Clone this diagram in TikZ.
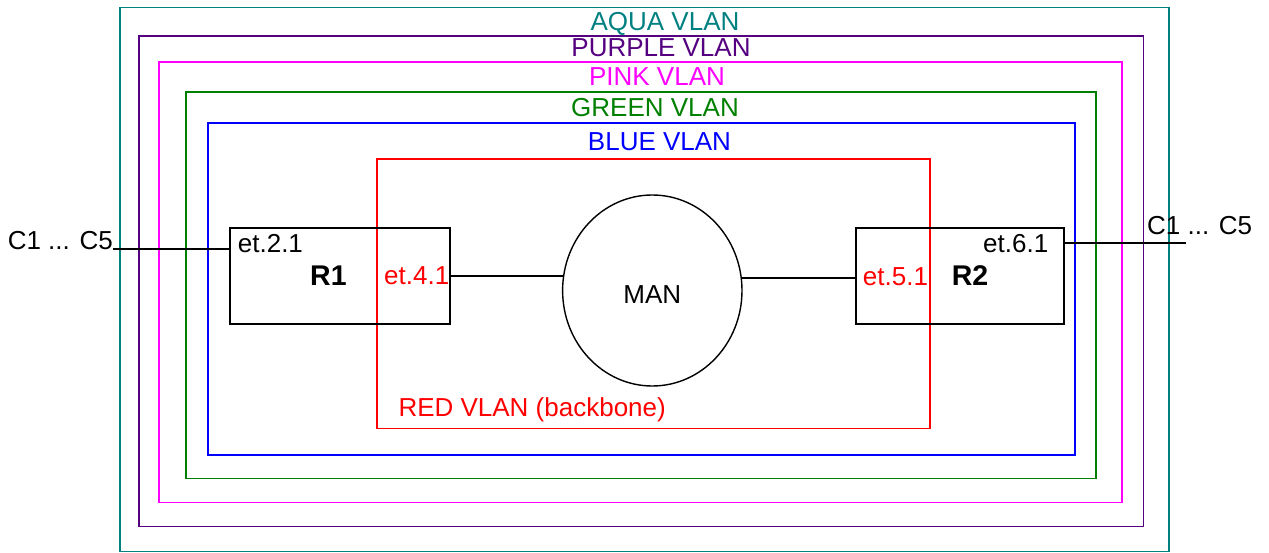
\documentclass[tikz,border=0pt]{standalone}
\usepackage{fontspec}
\setmainfont{Liberation Sans}
\usetikzlibrary{shapes.geometric}
\definecolor{aquac}{RGB}{0,128,128}
\definecolor{purplec}{RGB}{85,0,128}
\definecolor{pinkc}{RGB}{255,0,255}
\definecolor{greenc}{RGB}{0,128,0}
\definecolor{bluec}{RGB}{0,0,255}
\definecolor{redc}{RGB}{255,0,0}
\tikzset{
  vlan/.style={line width=1.6pt},
  txt/.style={inner sep=0pt, font=\fontsize{26}{31}\selectfont},
  btxt/.style={inner sep=0pt, font=\fontsize{28.5}{34}\selectfont\bfseries},
  router/.style={draw, line width=2pt, rectangle, inner sep=0pt},
  wire/.style={line width=2pt},
}
\begin{document}
\begin{tikzpicture}[x=1pt,y=-1pt]
\useasboundingbox (0,0) rectangle (1269,553);
% VLAN regions
\draw[vlan, aquac]   (120,7.5) rectangle (1169,551.5);
\draw[vlan, purplec] (139,36) rectangle (1143.5,526.5);
\draw[vlan, pinkc]   (159,62) rectangle (1122,502.5);
\draw[vlan, greenc]  (186,92) rectangle (1096,478.5);
\draw[vlan, bluec]   (208,123) rectangle (1075,455);
\draw[vlan, redc]    (377,159) rectangle (930,428.5);
% VLAN labels
\node[txt, text=aquac,   anchor=base] (laqua)   at (665,31)    {AQUA VLAN};
\node[txt, text=purplec, anchor=base] (lpurple) at (661,56.5)  {PURPLE VLAN};
\node[txt, text=pinkc,   anchor=base] (lpink)   at (657,86)    {PINK VLAN};
\node[txt, text=greenc,  anchor=base] (lgreen)  at (655,116.7) {GREEN VLAN};
\node[txt, text=bluec,   anchor=base] (lblue)   at (659.5,151) {BLUE VLAN};
\node[txt, text=redc, anchor=base west] (lred) at (398.3,416) {RED VLAN (backbone)};
% routers
\node[router, minimum width=220.3pt, minimum height=95.7pt] (R1) at (339.9,275.9) {};
\node[router, minimum width=208.3pt, minimum height=95.7pt] (R2) at (959.9,275.9) {};
% MAN
\node[draw, ellipse, line width=1.4pt, inner sep=0pt, minimum width=179.4pt, minimum height=191pt,
      font=\fontsize{26}{31}\selectfont, text height=25.2pt, text depth=0pt] (MAN) at (652.3,290.5) {MAN};
% router labels
\node[txt, anchor=base west] (e21) at (237.7,253) {et.2.1};
\node[btxt, anchor=base west] (r1t) at (310,286) {R1};
\node[txt, text=redc, anchor=base west] (e41) at (384,285) {et.4.1};
\node[txt, text=redc, anchor=base west] (e51) at (862.7,286) {et.5.1};
\node[btxt, anchor=base west] (r2t) at (951.7,286) {R2};
\node[txt, anchor=base west] (e61) at (983,253) {et.6.1};
% clients
\node[txt, anchor=base east] (cleft) at (113,250) {C1 ... C5};
\node[txt, anchor=base west] (cright) at (1147,235) {C1 ... C5};
\coordinate (cL) at (113,249.3);
\coordinate (cR) at (1185.7,242.7);
% wires
\draw[wire] (cL) -- (cL -| R1.west);
\draw[wire] (cR -| R2.east) -- (cR);
\draw[wire] (R1.east |- MAN.171.4) -- (MAN.171.4);
\draw[wire] (MAN.8.6) -- (MAN.8.6 -| R2.west);
\end{tikzpicture}
\end{document}
